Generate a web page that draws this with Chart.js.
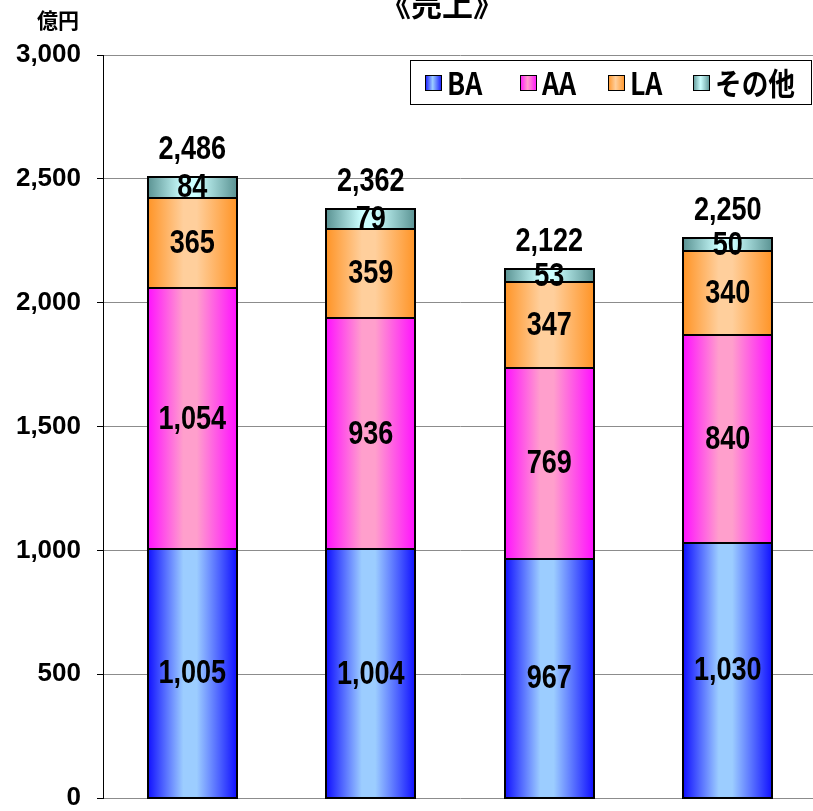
<!DOCTYPE html>
<html lang="ja">
<head>
<meta charset="utf-8">
<title>売上</title>
<script src="https://cdn.jsdelivr.net/npm/chart.js@4.4.1/dist/chart.umd.min.js"></script>
<style>
  html, body { margin: 0; padding: 0; background: #fff; overflow: hidden; }
  #wrap { width: 817px; height: 811px; }
</style>
</head>
<body>
<div id="wrap"><canvas id="salesChart" width="817" height="811"></canvas></div>
<script>
// sales by segment (億円)
const years = ['1', '2', '3', '4'];
const seriesNames = ['BA', 'AA', 'LA', 'その他'];
const baValues = [1005, 1004, 967, 1030];
const aaValues = [1054, 936, 769, 840];
const laValues = [365, 359, 347, 340];
const otherValues = [84, 79, 53, 50];
const totalLabels = [2486, 2362, 2122, 2250];
const yTicks = [0, 500, 1000, 1500, 2000, 2500, 3000];

// edge / highlight colours for the cylinder-like fill
const edgeColors = ['#1010ff', '#ff10ff', '#ff9426', '#5a9292'];
const lightColors = ['#9ccdff', '#ff9fcc', '#ffcf9c', '#ccffff'];

const fmt = v => v.toLocaleString('en-US');

function barGradient(ctx, seriesIdx) {
    const chart = ctx.chart;
    if (!chart.chartArea || !chart.scales.x) return edgeColors[seriesIdx];
    const xScale = chart.scales.x;
    const cx = xScale.getPixelForValue(ctx.dataIndex);
    const half = (xScale.width / years.length) * 0.5 / 2;
    const g = chart.ctx.createLinearGradient(cx - half, 0, cx + half, 0);
    g.addColorStop(0, edgeColors[seriesIdx]);
    g.addColorStop(0.4, lightColors[seriesIdx]);
    g.addColorStop(0.55, lightColors[seriesIdx]);
    g.addColorStop(1, edgeColors[seriesIdx]);
    return g;
}

function drawNarrowText(c, text, x, y, size) {
    c.save();
    c.translate(x, y);
    c.scale(0.82, 1);
    c.font = "bold " + size + "px 'Liberation Sans', Arial, sans-serif";
    c.textAlign = 'center';
    c.textBaseline = 'middle';
    c.fillStyle = '#000';
    c.fillText(text, 0, 0);
    c.restore();
}

// outlines, segment values, totals, title, unit and legend
const decorPlugin = {
    id: 'decor',
    afterDatasetsDraw(chart) {
        const c = chart.ctx;
        const metas = chart.data.datasets.map((d, i) => chart.getDatasetMeta(i));
        // even 2px outline round every segment
        c.save();
        c.strokeStyle = '#000';
        c.lineWidth = 2;
        metas.forEach(meta => {
            meta.data.forEach(bar => {
                const l = Math.round(bar.x - bar.width / 2);
                const r = Math.round(bar.x + bar.width / 2);
                const t = Math.round(bar.y), b = Math.round(bar.base);
                c.strokeRect(l, t, r - l, b - t);
            });
        });
        c.restore();
        metas.forEach((meta, di) => {
            meta.data.forEach((bar, i) => {
                const v = chart.data.datasets[di].data[i];
                drawNarrowText(c, fmt(v), bar.x, (bar.y + bar.base) / 2 + 1, 33);
            });
        });
        const top = metas[metas.length - 1];
        top.data.forEach((bar, i) => {
            drawNarrowText(c, fmt(totalLabels[i]), bar.x, bar.y - 27, 33);
        });
    },
    afterDraw(chart) {
        const c = chart.ctx;
        c.save();
        c.fillStyle = '#000';
        c.textAlign = 'center';
        c.textBaseline = 'alphabetic';
        c.font = "bold 31px 'Noto Sans CJK JP', sans-serif";
        c.fillText('《売上》', 442, 16);
        c.font = "bold 21px 'Noto Sans CJK JP', sans-serif";
        c.fillText('億円', 58, 28);

        // legend box
        c.fillStyle = '#fff';
        c.fillRect(410, 60, 402, 45);
        c.strokeStyle = '#000';
        c.lineWidth = 1;
        c.strokeRect(410.5, 60.5, 401, 44);
        const boxX = [425, 520, 608, 693];
        c.textAlign = 'left';
        c.textBaseline = 'middle';
        seriesNames.forEach((name, i) => {
            const bx = boxX[i], by = 75, bw = 17, bh = 16;
            const g = c.createLinearGradient(bx, 0, bx + bw, 0);
            g.addColorStop(0, edgeColors[i]);
            g.addColorStop(0.45, lightColors[i]);
            g.addColorStop(1, edgeColors[i]);
            c.fillStyle = g;
            c.fillRect(bx, by, bw, bh);
            c.strokeStyle = '#000';
            c.strokeRect(bx + 0.5, by + 0.5, bw - 1, bh - 1);
            c.save();
            c.translate(bx + 22, 83);
            c.scale(0.92, 1.05);
            c.fillStyle = '#000';
            c.font = "bold 29px 'Noto Sans CJK JP', sans-serif";
            c.fillText(name, 0, 0);
            c.restore();
        });
        c.restore();
    }
};

const valueSets = [baValues, aaValues, laValues, otherValues];

new Chart(document.getElementById('salesChart'), {
    type: 'bar',
    data: {
        labels: years,
        datasets: valueSets.map((vals, i) => ({
            label: seriesNames[i],
            data: vals,
            backgroundColor: ctx => barGradient(ctx, i),
            borderWidth: 0,
            barPercentage: 0.5,
            categoryPercentage: 1
        }))
    },
    options: {
        responsive: false,
        animation: false,
        layout: { padding: { top: 55, bottom: 13, left: 0, right: 0 } },
        plugins: {
            legend: { display: false },
            tooltip: { enabled: false }
        },
        scales: {
            x: {
                stacked: true,
                display: false
            },
            y: {
                stacked: true,
                min: 0,
                max: 3000,
                afterFit(scale) {
                    scale.width = 103;
                    scale.paddingTop = 0;
                    scale.paddingBottom = 0;
                },
                afterBuildTicks(scale) { scale.ticks = yTicks.map(v => ({ value: v })); },
                border: { display: true, color: '#000', width: 1 },
                grid: {
                    color: '#8c8c8c',
                    lineWidth: 1,
                    tickLength: 6,
                    tickColor: '#000'
                },
                ticks: {
                    padding: 16,
                    color: '#000',
                    font: { family: "'Liberation Sans', Arial, sans-serif", size: 26, weight: 'bold' },
                    callback: v => fmt(v)
                }
            }
        }
    },
    plugins: [decorPlugin]
});
</script>
</body>
</html>
